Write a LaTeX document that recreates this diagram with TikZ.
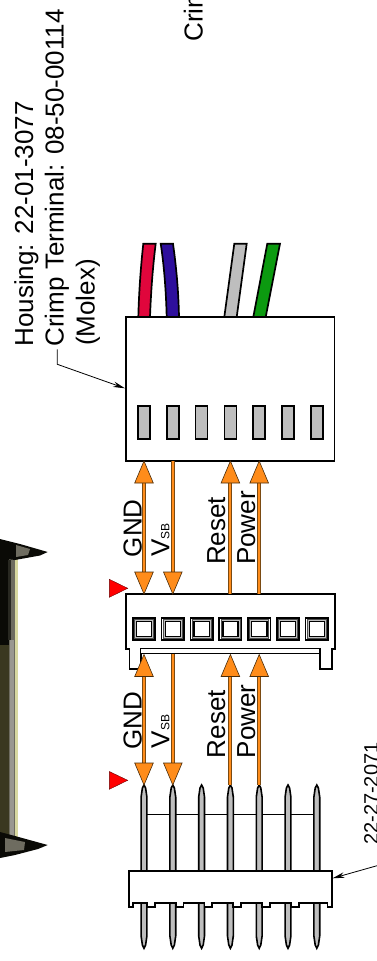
\documentclass[tikz,border=0pt]{standalone}
\usepackage{fontspec}
\setmainfont{Liberation Sans}
\usetikzlibrary{arrows.meta,calc}
\definecolor{orangeA}{HTML}{FF8C1A}
\definecolor{orangeB}{HTML}{7A4A12}
\definecolor{pinGray}{HTML}{BEBEBE}
\definecolor{wireRed}{HTML}{E0063C}
\definecolor{wireBlue}{HTML}{2E0F9C}
\definecolor{wireGreen}{HTML}{0C9A10}
\definecolor{photoDark}{HTML}{0A0A06}
\definecolor{photoOlive}{HTML}{3A3820}
\definecolor{photoGray}{HTML}{6E6C60}
\definecolor{photoPale}{HTML}{D8D8A0}
\tikzset{
  lbl/.style={rotate=90,anchor=base west,inner sep=0pt,font=\fontsize{26}{26}\selectfont},
  lblsm/.style={lbl,font=\fontsize{20}{20}\selectfont},
  callout/.style={draw=black,line width=0.8pt,-{Stealth[length=12pt,width=5.5pt]}},
  body/.style={draw=black,fill=white,line width=1.7pt},
  wirestyle/.style={draw=black,line width=1.7pt},
  pinbar/.style={draw=black,fill=pinGray,line width=1.6pt},
  marker/.style={draw=black!60!red,fill=red,line width=0.4pt}
}
\newcommand{\shaft}[3]{%
  \draw[orangeB,line width=4pt] (#1,#2) -- (#1,#3);
  \draw[orangeA,line width=2pt] (#1,#2) -- (#1,#3);}
\newcommand{\headup}[2]{%
  \fill[orangeA,draw=orangeB!60!black,line width=0.6pt,line join=miter] (#1,#2) -- (#1+9.3,#2+22) -- (#1-9.3,#2+22) -- cycle;}
\newcommand{\headdown}[2]{%
  \fill[orangeA,draw=orangeB!60!black,line width=0.6pt,line join=miter] (#1,#2) -- (#1+9.3,#2-22) -- (#1-9.3,#2-22) -- cycle;}
\newcommand{\gpin}[1]{%
  \draw[pinbar] (#1-2.9,797) -- (#1-1.6,788) -- (#1,785) -- (#1+1.6,788) -- (#1+2.9,797) -- (#1+2.9,936) -- (#1+1.6,945) -- (#1,948.3) -- (#1-1.6,945) -- (#1-2.9,936) -- cycle;}
\begin{document}
\begin{tikzpicture}[x=1pt,y=-1pt]
\useasboundingbox (0,0) rectangle (377,961);
% photo at the left
\fill[photoPale] (0,555) rectangle (18,838);
\fill[photoGray] (0,555) rectangle (15,838);
\fill[photoGray!70!white] (10,640) rectangle (14,838);
\fill[photoDark] (0,555) rectangle (8.5,645);
\fill[photoOlive] (0,645) rectangle (8.5,838);
\fill[photoDark!70!photoGray] (8,560) rectangle (11,640);
\fill[photoDark] (0,539) -- (20,544) -- (47.7,552) -- (40,555.5) -- (15,560) -- (0,558) -- cycle;
\fill[photoGray] (16,545) -- (30,549) -- (28,555) -- (16,557) -- cycle;
\fill[photoDark] (0,832) -- (15,836) -- (47.7,845) -- (38,849) -- (15,855) -- (0,858) -- cycle;
\fill[photoGray] (5,838) -- (25,842) -- (24,850) -- (5,852) -- cycle;
% crimp-side housing with wires
\draw[wirestyle,fill=wireRed] (138.3,317) .. controls (139,290) and (141,265) .. (143.3,243.7) -- (155.7,243.7) .. controls (153,265) and (151,290) .. (150,317) -- cycle;
\draw[wirestyle,fill=wireBlue] (166.7,317) .. controls (166,290) and (164,265) .. (160.7,243.7) -- (173,243.7) .. controls (176,265) and (178.5,290) .. (179,317) -- cycle;
\draw[wirestyle,fill=pinGray] (224.3,317) -- (234.3,243.7) -- (246.7,243.7) -- (236.7,317) -- cycle;
\draw[wirestyle,fill=wireGreen] (253.3,317) -- (267.3,243.7) -- (280,243.7) -- (265.7,317) -- cycle;
\node[body,minimum width=208.5pt,minimum height=144pt,inner sep=0pt] (housing) at (230.2,389) {};
\foreach \n/\x in {1/144,2/172.8,3/201.6,4/230.4,5/259.2,6/288,7/316.8}{
  \node[draw=black,fill=pinGray,line width=1.6pt,minimum width=12pt,minimum height=33pt,inner sep=0pt] (slot\n) at (\x,422.5) {};
}
% mating connector
\draw[body] (126,594) -- (335,594) -- (335,649) -- (331.7,649) -- (331.7,669) -- (320,669) -- (320,649) -- (140.7,649) -- (140.7,669) -- (129.5,669) -- (129.5,649) -- (126,649) -- cycle;
\draw[draw=black,fill=white,line width=1.4pt] (140.7,648.5) rectangle (320,653.5);
\foreach \n/\x in {1/144,2/172.8,3/201.6,4/230.4,5/259.2,6/288,7/316.8}{
  \draw[draw=black,fill=white,line width=1.6pt] (\x-11.2,617.7) rectangle (\x+11.2,640);
  \draw[draw=black!70,fill=black!25,line width=0.5pt] (\x-9.5,619.4) rectangle (\x+9.5,638.3);
  \draw[draw=black,fill=white,line width=1.4pt] (\x-7.6,621.4) rectangle (\x+7.6,636.3);
}
% header
\draw[black,line width=1.3pt] (147,814.3) -- (314,814.3);
\foreach \x in {144,172.8,201.6,230.4,259.2,288,316.8}{\gpin{\x}}
\draw[body] (129.3,871) -- (331.7,871) -- (331.7,907.3) -- (327.5,907.3) -- (327.5,902.7)
  \foreach \x in {0,1,2,3,4,5} { -- ({298.7-28.8*\x},902.7) -- ({298.7-28.8*\x},907.3) -- ({298.7-28.8*\x-7.8},907.3) -- ({298.7-28.8*\x-7.8},902.7) }
  -- (133.3,902.7) -- (133.3,907.3) -- (129.3,907.3) -- cycle;
% upper signals
\shaft{144}{475}{580}
\shaft{172.8}{461}{575}
\shaft{230.4}{480}{594}
\shaft{259.2}{480}{594}
\headup{144}{461}
\headdown{144}{594}
\headdown{172.8}{594}
\headup{230.4}{461}
\headup{259.2}{461}
% lower signals
\shaft{144}{670}{770}
\shaft{172.8}{654}{770}
\shaft{230.4}{670}{785}
\shaft{259.2}{670}{785}
\headup{144}{654.5}
\headdown{144}{785}
\headdown{172.8}{785}
\headup{230.4}{654.5}
\headup{259.2}{654.5}
% red markers
\fill[marker] (109.3,579.3) -- (127.7,588.3) -- (109.3,597.3) -- cycle;
\fill[marker] (109.3,771.5) -- (127.7,780.3) -- (109.3,789.3) -- cycle;
% labels
\node[lbl] (housingA) at (33,346.7) {Housing: 22-01-3077};
\node[lbl] (housingB) at (63.5,346.7) {Crimp Terminal: 08-50-00114};
\node[lbl] (housingC) at (94.5,346) {(Molex)};
\node[lbl] (crim) at (202.7,41.7) {Crim};
\node[lbl] (gndA) at (141.7,557.3) {GND};
\node[lbl] (vsbA) at (169.3,556.7) {V{\fontsize{12}{12}\selectfont SB}};
\node[lbl] (resetA) at (225,565) {Reset};
\node[lbl] (powerA) at (255,565) {Power};
\node[lbl] (gndB) at (141.7,750) {GND};
\node[lbl] (vsbB) at (169.3,748.3) {V{\fontsize{12}{12}\selectfont SB}};
\node[lbl] (resetB) at (225,758.3) {Reset};
\node[lbl] (powerB) at (255,758.3) {Power};
\node[lblsm] (partnum) at (378,845) {22-27-2071};
% callouts
\coordinate (partEnd) at (377,865.7);
\coordinate (molexBend) at (57.3,364.3);
\draw[callout] (57.3,349.3) -- (molexBend) -- (125,388.3);
\draw[callout] (partEnd) -- (332.5,878.3);
\end{tikzpicture}
\end{document}
